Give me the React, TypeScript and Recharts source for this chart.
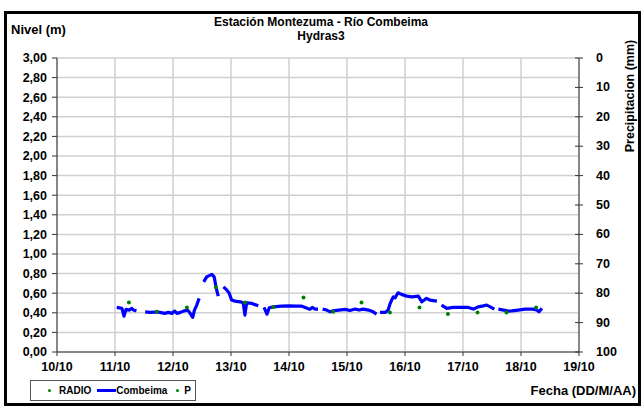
import React from "react";
import {
  ComposedChart,
  Line,
  Scatter,
  XAxis,
  YAxis,
  CartesianGrid,
} from "recharts";

// Combeima level (m); null marks a gap in the record
const combeimaDia = [
  11.03, 11.12, 11.155, 11.19, 11.25, 11.29, 11.32, 11.37, 11.45,
  11.52, 11.6, 11.69, 11.75, 11.86, 11.92, 11.98, 12.03, 12.07, 12.13, 12.18, 12.25, 12.29, 12.34, 12.37, 12.41, 12.45, 12.49,
  12.53, 12.58, 12.67, 12.71, 12.74, 12.78, 12.82,
  12.87, 12.93, 12.97, 13.01, 13.07, 13.16, 13.21, 13.24, 13.27, 13.36, 13.47, 13.52,
  13.57, 13.62, 13.66, 13.73, 13.87, 14.0, 14.13, 14.22, 14.28, 14.36, 14.4, 14.45, 14.5, 14.54,
  14.58, 14.65, 14.71, 14.76, 14.82, 14.97, 15.05, 15.14, 15.21, 15.28, 15.37, 15.45, 15.51, 15.54,
  15.57, 15.66, 15.71, 15.74, 15.77, 15.8, 15.83, 15.88, 15.94, 16.03, 16.12, 16.23, 16.29, 16.37, 16.43, 16.55, 16.59,
  16.63, 16.72, 16.83, 16.98, 17.09, 17.18, 17.26, 17.35, 17.41, 17.47, 17.54, 17.57,
  17.61, 17.7, 17.78, 17.84, 17.95, 18.07, 18.2, 18.27, 18.31, 18.36,
];
const combeimaNivel = [
  0.455, 0.445, 0.366, 0.435, 0.428, 0.445, 0.428, 0.42, null,
  0.41, 0.404, 0.407, 0.407, 0.394, 0.404, 0.394, 0.417, 0.394, 0.404, 0.417, 0.428, 0.4, 0.353, 0.428, 0.479, 0.547, null,
  0.716, 0.767, 0.792, 0.767, 0.665, 0.57, null,
  0.665, 0.632, 0.598, 0.53, 0.519, 0.512, 0.502, 0.377, 0.502, 0.496, 0.471, null,
  0.455, 0.387, 0.451, 0.461, 0.468, 0.471, 0.468, 0.468, 0.455, 0.435, 0.455, 0.438, 0.438, null,
  0.438, 0.428, 0.41, 0.42, 0.424, 0.435, 0.424, 0.438, 0.428, 0.438, 0.428, 0.41, 0.387, null,
  0.404, 0.404, 0.428, 0.489, 0.53, 0.563, 0.553, 0.604, 0.588, 0.57, 0.563, 0.57, 0.512, 0.547, 0.53, 0.519, null,
  0.479, 0.445, 0.455, 0.455, 0.455, 0.438, 0.461, 0.471, 0.479, 0.461, 0.438, null,
  0.438, 0.428, 0.417, 0.42, 0.428, 0.438, 0.438, 0.428, 0.41, 0.445,
];

// RADIO readings (m)
const radioDia = [11.24, 11.72, 12.24, 12.74, 13.24, 13.73, 14.25, 14.76, 15.25, 15.74, 16.25, 16.74, 17.25, 17.75, 18.26];
const radioNivel = [0.506, 0.41, 0.455, 0.66, 0.506, 0.46, 0.555, 0.41, 0.506, 0.404, 0.455, 0.387, 0.404, 0.404, 0.455];

// P (precipitation, mm) - no readings in this period
const pDia: number[] = [];
const pValor: number[] = [];

const fechaTicks = [10, 11, 12, 13, 14, 15, 16, 17, 18, 19];
const nivelTicks = [0, 0.2, 0.4, 0.6, 0.8, 1.0, 1.2, 1.4, 1.6, 1.8, 2.0, 2.2, 2.4, 2.6, 2.8, 3.0];
const precipTicks = [0, 10, 20, 30, 40, 50, 60, 70, 80, 90, 100];

const combeimaData = combeimaDia.map((t, i) => ({ t, nivel: combeimaNivel[i] }));
const radioData = radioDia.map((t, i) => ({ t, radio: radioNivel[i] }));
const pData = pDia.map((t, i) => ({ t, p: pValor[i] }));

const FONT = '"Liberation Sans", Arial, sans-serif';
const tickStyle = { fill: "#000", fontSize: 12.5, fontWeight: 700, fontFamily: FONT };

const RightTick = (props: any) => {
  const { x, y, payload } = props;
  const ax = x - 17;
  return (
    <g>
      <line x1={ax - 4} x2={ax + 4} y1={y} y2={y} stroke="#333" />
      <text x={x} y={y} dy={4} textAnchor="start" {...tickStyle}>
        {payload.value}
      </text>
    </g>
  );
};

const Dot = (props: any) => (
  <circle cx={props.cx} cy={props.cy} r={2} fill="#008000" />
);

const label = (style: React.CSSProperties): React.CSSProperties => ({
  position: "absolute",
  fontFamily: FONT,
  fontSize: 12.5,
  fontWeight: 700,
  color: "#000",
  whiteSpace: "nowrap",
  ...style,
});

const swatch = (w: number, h: number, color: string, ml: number): React.CSSProperties => ({
  display: "inline-block",
  flexShrink: 0,
  width: w,
  height: h,
  borderRadius: h < w ? 0 : h,
  background: color,
  marginLeft: ml,
});

export default function App() {
  return (
    <div style={{ position: "absolute", left: 0, top: 0, width: 642, height: 406, background: "#fff" }}>
      <div
        style={{
          position: "absolute",
          left: 4,
          top: 11,
          width: 637,
          height: 395,
          boxSizing: "border-box",
          border: "3px solid #000",
        }}
      />
      <ComposedChart
        width={642}
        height={406}
        margin={{ top: 58, right: 13, bottom: 24, left: 7 }}
      >
        <CartesianGrid yAxisId="left" stroke="#d0d0d0" strokeWidth={1.5} />
        <XAxis
          type="number"
          dataKey="t"
          domain={[10, 19]}
          ticks={fechaTicks}
          interval={0}
          allowDataOverflow
          tickFormatter={(d: number) => `${d}/10`}
          tick={tickStyle}
          stroke="#333"
          tickSize={4}
          tickMargin={6}
          height={30}
        />
        <YAxis
          yAxisId="left"
          domain={[0, 3]}
          ticks={nivelTicks}
          interval={0}
          allowDataOverflow
          tickFormatter={(v: number) => v.toFixed(2).replace(".", ",")}
          tick={tickStyle}
          stroke="#333"
          tickSize={5}
          tickMargin={5}
          width={50}
        />
        <YAxis
          yAxisId="right"
          orientation="right"
          domain={[0, 100]}
          allowDataOverflow
          reversed
          ticks={precipTicks}
          interval={0}
          tick={<RightTick />}
          tickLine={false}
          tickSize={0}
          tickMargin={17}
          stroke="#333"
          width={50}
        />
        <Line
          yAxisId="left"
          data={combeimaData}
          dataKey="nivel"
          name="Combeima"
          type="linear"
          stroke="#0000ff"
          strokeWidth={3.2}
          dot={false}
          activeDot={false}
          strokeLinejoin="round"
          isAnimationActive={false}
        />
        <Scatter
          yAxisId="left"
          data={radioData}
          dataKey="radio"
          name="RADIO"
          shape={<Dot />}
          isAnimationActive={false}
        />
        <Scatter
          yAxisId="right"
          data={pData}
          dataKey="p"
          name="P"
          shape={<Dot />}
          isAnimationActive={false}
        />
      </ComposedChart>
      <div
        style={{
          position: "absolute",
          left: 30,
          top: 380,
          width: 166,
          height: 21,
          boxSizing: "border-box",
          border: "1px solid #555",
          display: "flex",
          alignItems: "center",
          fontFamily: FONT,
          fontSize: 10,
          fontWeight: 700,
          color: "#000",
          whiteSpace: "nowrap",
        }}
      >
        <span style={swatch(3, 3, "#008000", 17)} />
        <span style={{ marginLeft: 8 }}>RADIO</span>
        <span style={swatch(19, 3, "#0000ff", 6)} />
        <span>Combeima</span>
        <span style={swatch(3, 3, "#008000", 9)} />
        <span style={{ marginLeft: 5 }}>P</span>
      </div>
      <div style={label({ left: 0, width: 642, top: 15, textAlign: "center", lineHeight: "14px", fontSize: 12 })}>
        Estación Montezuma - Río Combeima
        <br />
        Hydras3
      </div>
      <div style={label({ left: 11, top: 22, fontSize: 13 })}>Nivel (m)</div>
      <div style={label({ right: 6, top: 383, fontSize: 13 })}>Fecha (DD/M/AA)</div>
      <div
        style={label({
          left: 630,
          top: 96,
          transform: "translate(-50%, -50%) rotate(-90deg)",
        })}
      >
        Precipitacion (mm)
      </div>
    </div>
  );
}
